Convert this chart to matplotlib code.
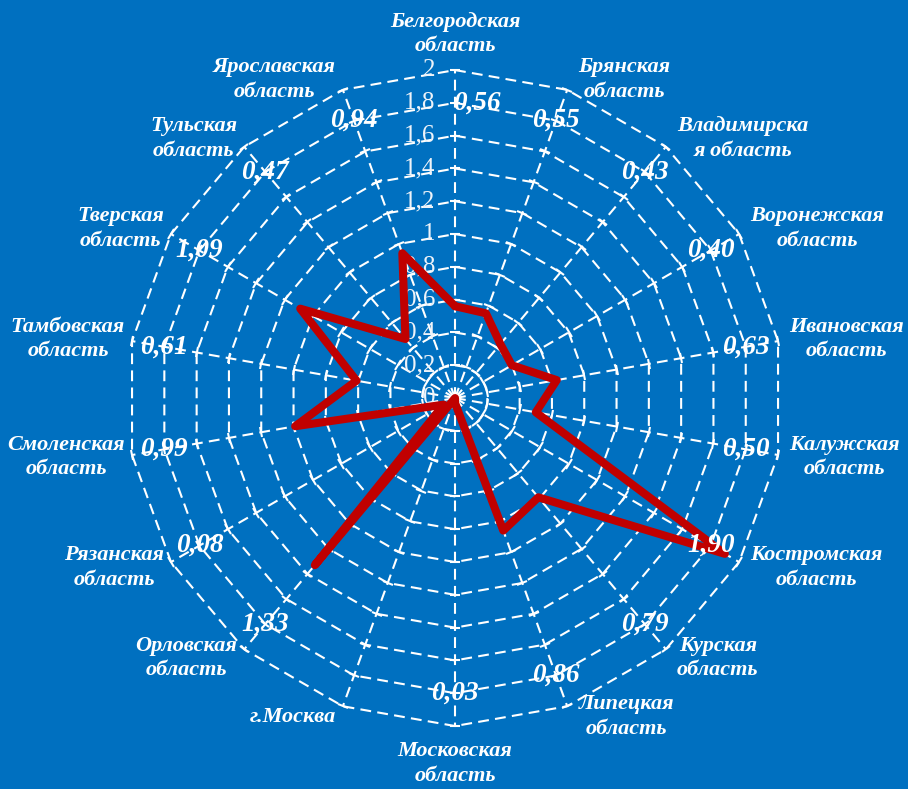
import matplotlib.pyplot as plt
import numpy as np
from matplotlib.markers import MarkerStyle
from matplotlib.transforms import Affine2D

# regions, clockwise from the top
regions = [
    "Белгородская\nобласть", "Брянская\nобласть", "Владимирска\nя область",
    "Воронежская\nобласть", "Ивановская\nобласть", "Калужская\nобласть",
    "Костромская\nобласть", "Курская\nобласть", "Липецкая\nобласть",
    "Московская\nобласть", "г.Москва", "Орловская\nобласть",
    "Рязанская\nобласть", "Смоленская\nобласть", "Тамбовская\nобласть",
    "Тверская\nобласть", "Тульская\nобласть", "Ярославская\nобласть",
]
values = [0.56, 0.55, 0.43, 0.40, 0.63, 0.50, 1.90, 0.79, 0.86,
          0.03, 0.0, 1.33, 0.08, 0.99, 0.61, 1.09, 0.47, 0.94]
value_labels = ["0,56", "0,55", "0,43", "0,40", "0,63", "0,50", "1,90", "0,79", "0,86",
                "0,03", "", "1,33", "0,08", "0,99", "0,61", "1,09", "0,47", "0,94"]
rings = [0.2, 0.4, 0.6, 0.8, 1.0, 1.2, 1.4, 1.6, 1.8, 2.0]
ring_labels = ["0", "0,2", "0,4", "0,6", "0,8", "1", "1,2", "1,4", "1,6", "1,8", "2"]

bg = "#0070C0"
serif = "Liberation Serif"
dash = (0, (5.2, 3.0))

fig = plt.figure(figsize=(9.08, 7.89), dpi=100, facecolor=bg)
ax = fig.add_axes([0.1399, 0.0798, 0.7225, 0.8314], projection="polar")
ax.set_facecolor(bg)
ax.set_theta_zero_location("N")
ax.set_theta_direction(-1)
ax.set_ylim(0, 2)
ax.grid(False)
ax.spines["polar"].set_visible(False)
ax.set_xticks([])
ax.set_yticks([])

n = len(regions)
angles = np.arange(n) * 2 * np.pi / n
closed = np.append(angles, angles[0])

# polygon rings
for r in rings:
    ax.plot(closed, [r] * (n + 1), color="white", lw=1.5, ls=dash, clip_on=False)

# spokes with small cross ticks
for a in angles:
    ax.plot([a, a], [0, 2], color="white", lw=1.5, ls=dash, clip_on=False)
    m = MarkerStyle("_", transform=Affine2D().rotate_deg(-np.degrees(a)))
    ax.plot([a] * len(rings), rings, ls="none", marker=m, ms=7.5,
            mew=1.5, color="white", clip_on=False)

# value axis labels
for r, lab in zip([0] + rings, ring_labels):
    ax.annotate(lab, xy=(0, r), xytext=(-14, 0), textcoords="offset points",
                ha="right", va="center", fontsize=18, family=serif,
                color="#eef3f9")

# data line
ax.plot(closed, values + [values[0]], color="#C00000", lw=5.8,
        solid_joinstyle="round", solid_capstyle="round", clip_on=False, zorder=5)

# data labels
for a, lab in zip(angles, value_labels):
    dx = 16 if a == 0 else 0
    ax.annotate(lab, xy=(a, 1.8), xytext=(dx, 0), textcoords="offset points",
                ha="center", va="center", fontsize=19.5, family=serif,
                weight="bold", style="italic", color="white", zorder=6)

# category labels
for a, lab in zip(angles, regions):
    s, c = np.sin(a), np.cos(a)
    if s > 0.05:
        ha, dx = "left", 8
    elif s < -0.05:
        ha, dx = "right", -5
    else:
        ha, dx = "center", 0
    if c > 0.99:
        va, dy = "bottom", 10
    elif c < -0.99:
        va, dy = "top", -11
    else:
        va, dy = "center", 8 * c
    ax.annotate(lab, xy=(a, 2), xytext=(dx, dy), textcoords="offset points",
                ha=ha, va=va, multialignment="center", fontsize=16,
                family=serif, weight="bold", style="italic", color="white",
                linespacing=1.3)

fig.savefig("out.png", dpi=100, facecolor=bg)
